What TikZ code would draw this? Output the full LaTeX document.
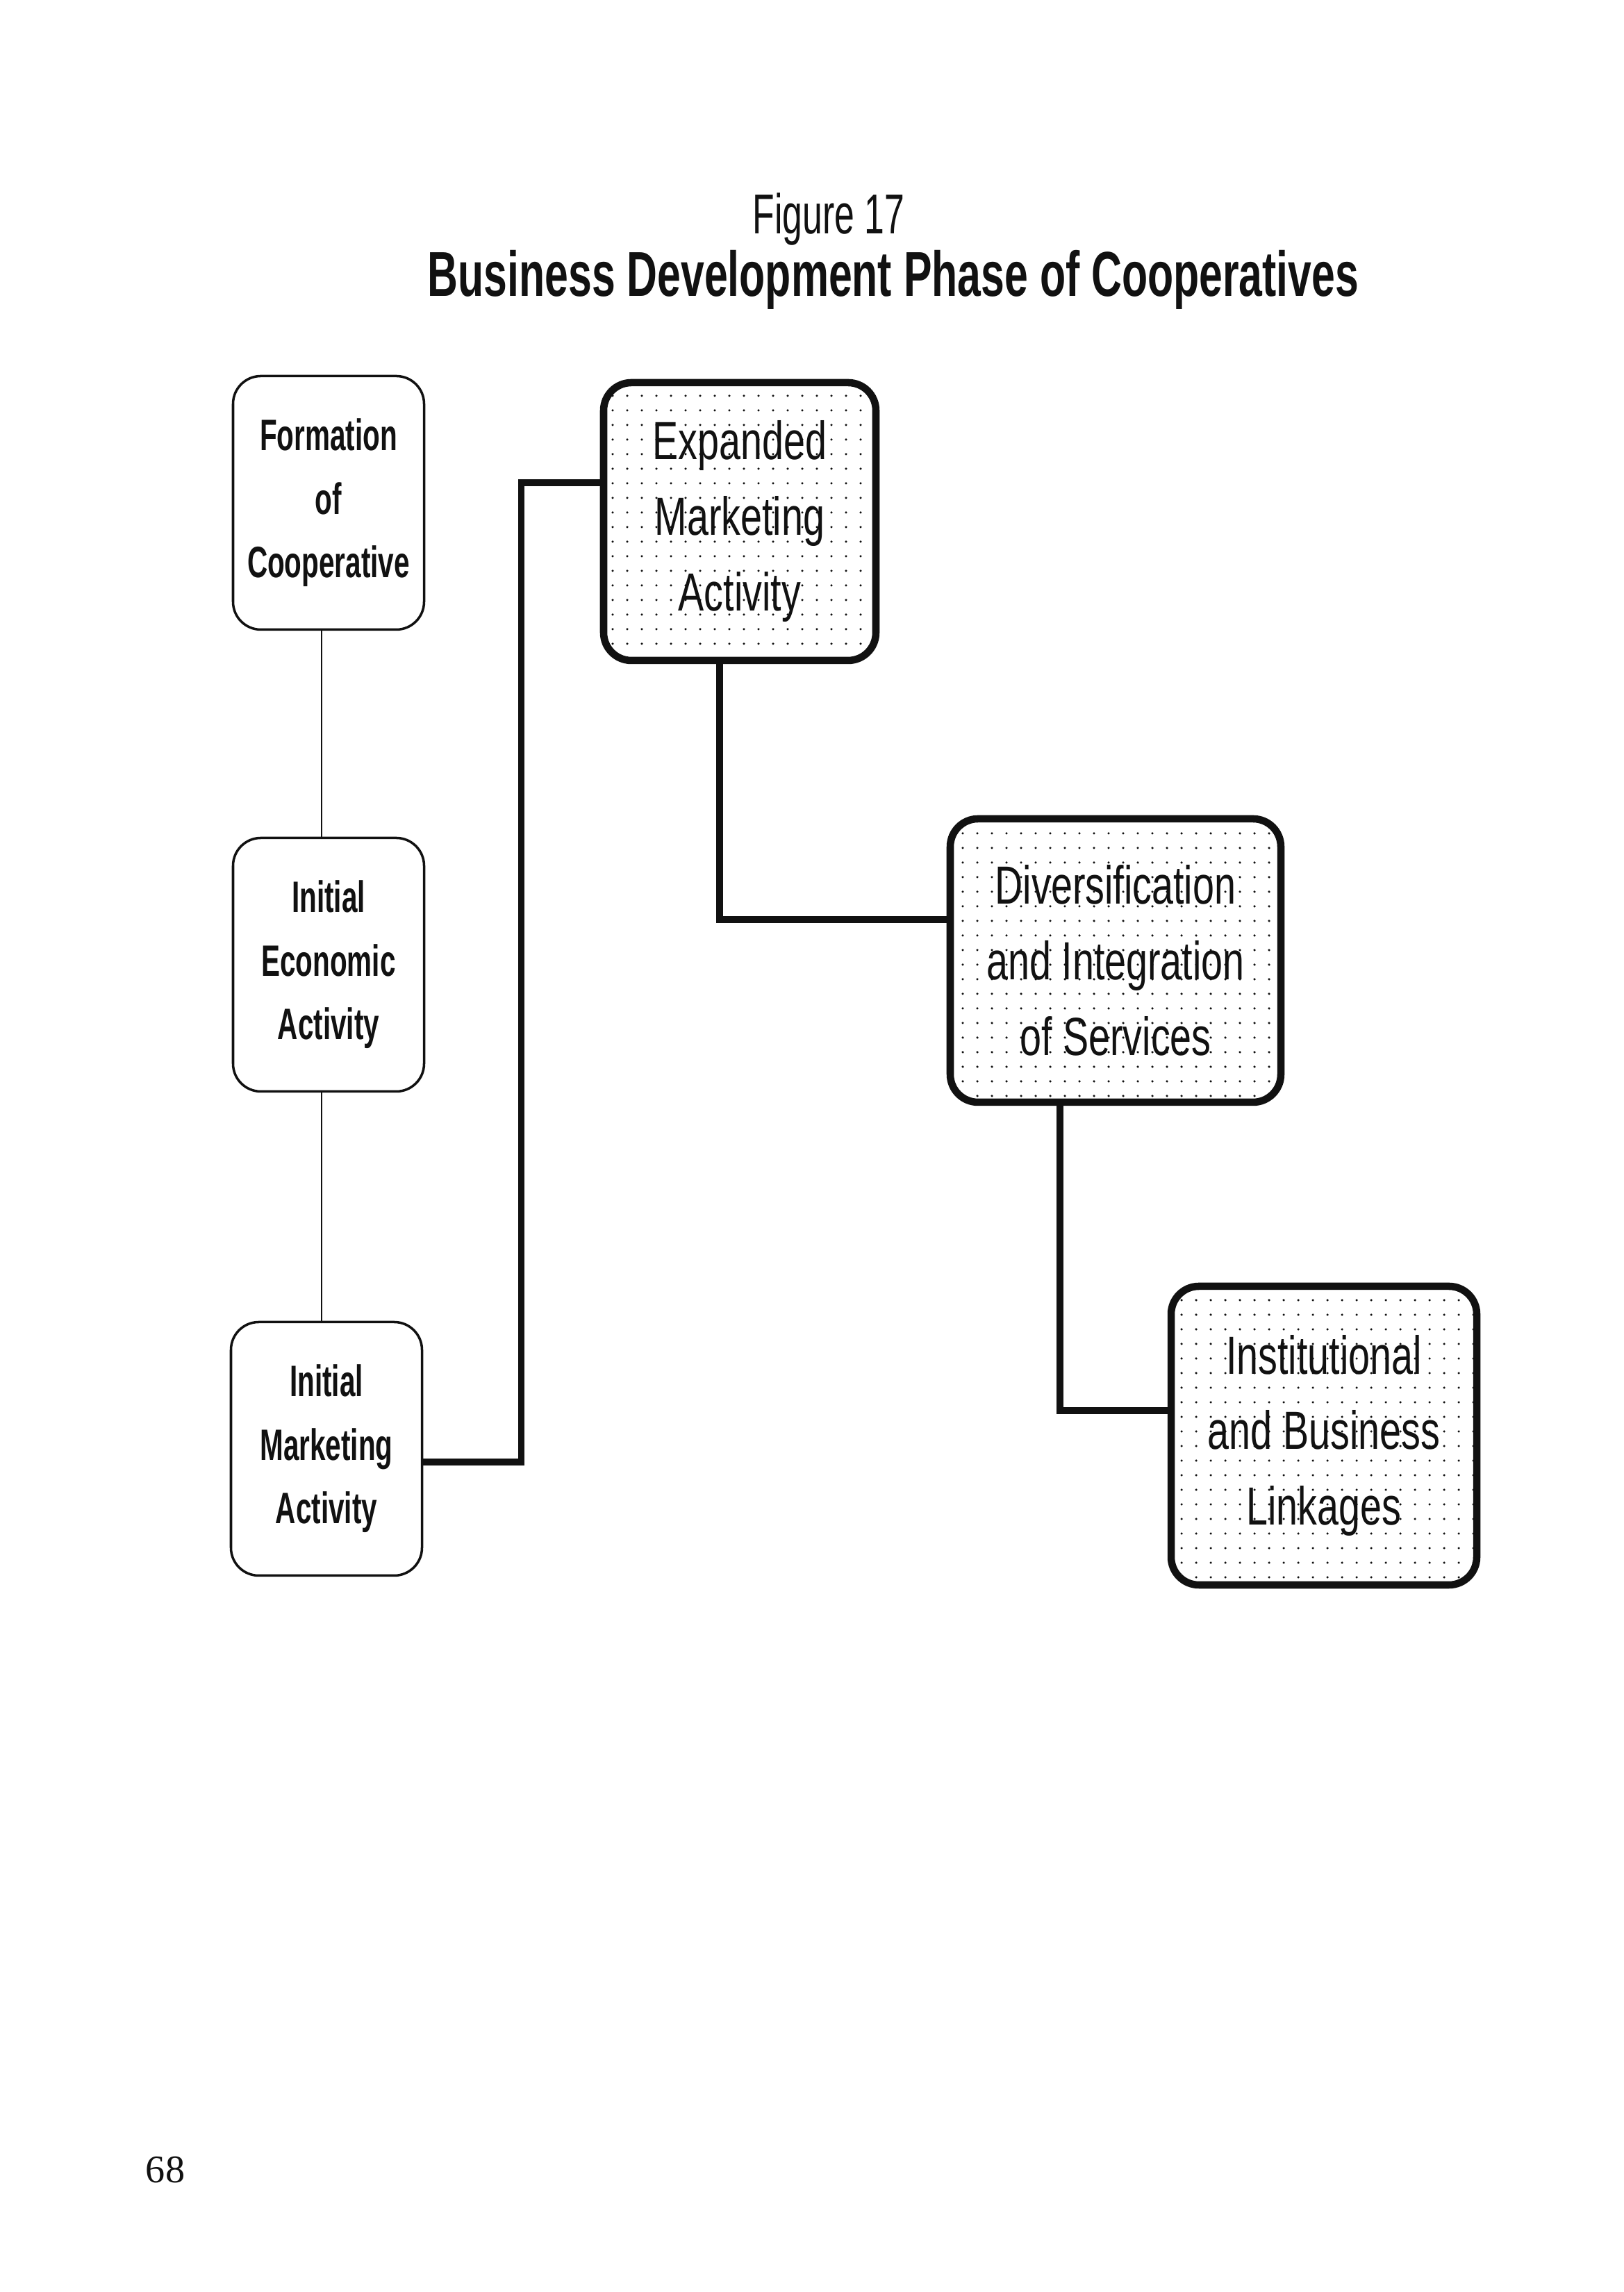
\documentclass[tikz,border=0pt]{standalone}
\usepackage{fontspec}
\usetikzlibrary{patterns.meta}
\newfontfamily\coopfont[FakeStretch=0.72]{Liberation Sans}
\newfontfamily\coopnarrow[FakeStretch=0.64]{Liberation Sans}
\newfontfamily\cooptitle[FakeStretch=0.665]{Liberation Sans}
\newfontfamily\pagefont{Liberation Serif}
\definecolor{coopink}{HTML}{111111}
\tikzset{
  every picture/.style={font=\coopnarrow,text=coopink},
  stage/.style={rounded corners=4mm,draw=coopink,line width=1pt,align=center,
    minimum width=2.75cm,minimum height=3.65cm,inner sep=0pt,
    font=\coopnarrow\bfseries\fontsize{18}{26}\selectfont},
  phase/.style={rounded corners=4mm,draw=coopink,line width=3pt,align=center,
    pattern={Dots[distance=2.1mm,radius=0.5pt]},pattern color=coopink,
    inner sep=0pt,font=\coopfont\fontsize{22}{31}\selectfont},
  thinlink/.style={draw=coopink,line width=0.8pt},
  thicklink/.style={draw=coopink,line width=2.6pt},
}

\begin{document}
\begin{tikzpicture}[x=1cm,y=1cm]
  \path[use as bounding box] (0,0) rectangle (23.37,33);
  % heading
  \node[anchor=base,font=\coopnarrow\fontsize{23}{28}\selectfont] (fig) at (11.93,29.63) {Figure 17};
  \node[anchor=base,font=\cooptitle\bfseries\fontsize{26}{30}\selectfont] (title) at (12.86,28.73)
    {Business Development Phase of Cooperatives};
  % early stages on the left, later phases stepping down to the right
  \node[stage] (form) at (4.73,25.76) {Formation\\of\\Cooperative};
  \node[stage] (econ) at (4.73,19.11) {Initial\\Economic\\Activity};
  \node[stage] (initmkt) at (4.70,12.14) {Initial\\Marketing\\Activity};
  \node[phase,minimum width=3.92cm,minimum height=4.00cm] (expmkt) at (10.65,25.49)
    {Expanded\\Marketing\\Activity};
  \node[phase,minimum width=4.76cm,minimum height=4.08cm] (divers) at (16.06,19.17)
    {Diversification\\and Integration\\of Services};
  \node[phase,minimum width=4.40cm,minimum height=4.30cm] (inst) at (19.06,12.33)
    {Institutional\\and Business\\Linkages};
  \draw[thinlink] ([xshift=-1mm]form.south) -- ([xshift=-1mm]econ.north);
  \draw[thinlink] ([xshift=-1mm]econ.south) -- ([xshift=-1mm]econ.south |- initmkt.north);
  \draw[thicklink] ([yshift=-1.9mm]initmkt.east) -- ++(1.41,0) |- ([yshift=5.6mm]expmkt.west);
  \draw[thicklink] ([xshift=-2.9mm]expmkt.south) |- ([yshift=5.9mm]divers.west);
  \draw[thicklink] ([xshift=-8mm]divers.south) |- ([yshift=3.6mm]inst.west);
  \node[font=\pagefont\fontsize{16}{19}\selectfont] (pageno) at (2.38,1.76) {68};
\end{tikzpicture}
\end{document}
